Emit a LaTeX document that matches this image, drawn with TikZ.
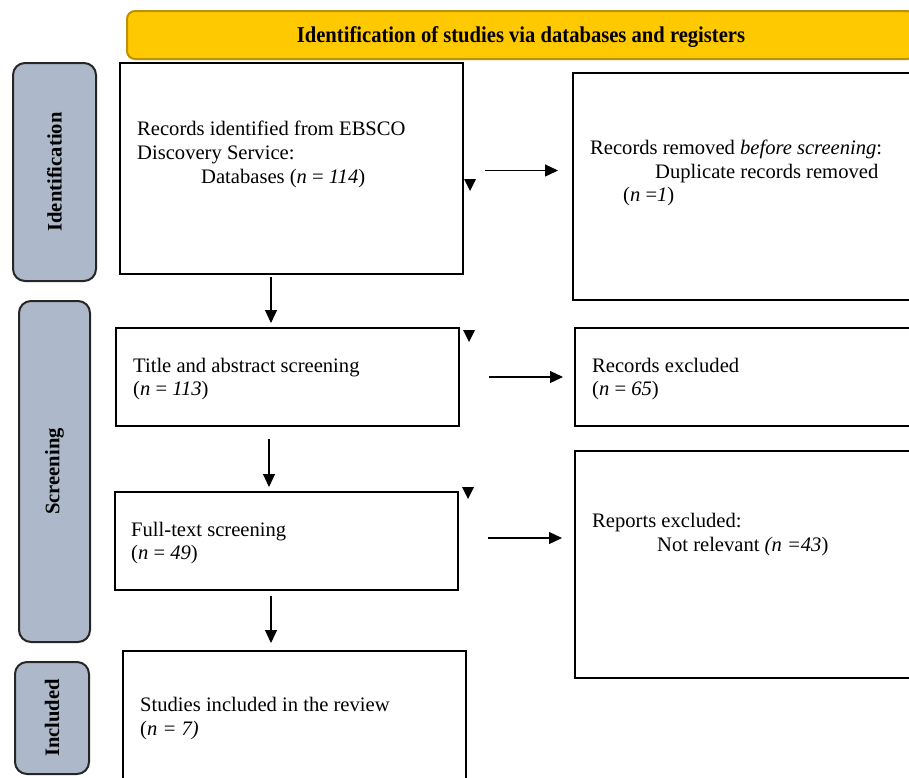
\documentclass[tikz,border=0pt]{standalone}
\usepackage{fontspec}
\setmainfont{Liberation Serif}
\usetikzlibrary{arrows.meta}
\definecolor{bannerfill}{HTML}{FFC900}
\definecolor{bannerline}{HTML}{BF9000}
\definecolor{sidefill}{HTML}{ADB9CA}
\begin{document}
\begin{tikzpicture}[x=1pt,y=-1pt,
  txt/.style={inner sep=0pt, anchor=base west, font=\fontsize{20.6}{24}\selectfont},
  box/.style={draw, line width=2pt, anchor=north west, inner sep=0pt},
  sidebox/.style={draw=black!85, fill=sidefill, line width=2pt, rounded corners=12pt, anchor=north west, inner sep=0pt},
  sidelabel/.style={rotate=90, font=\fontsize{20.6}{24}\selectfont\bfseries, inner sep=0pt},
  arr/.style={line width=1.2pt, -{Triangle[length=13pt,width=12pt]}},
  tri/.style={fill=black}]
\useasboundingbox (0,0) rectangle (909,777);

% banner
\node[draw=bannerline, fill=bannerfill, line width=2pt, rounded corners=8pt,
  minimum width=788pt, minimum height=48pt, anchor=north west] (ban) at (126,10) {};
\node[font=\fontsize{20.6}{24}\selectfont\bfseries, inner sep=0pt, yscale=1.1] (bant) at ([yshift=-2pt]ban.center)
  {Identification of studies via databases and registers};

% side boxes
\node[sidebox, minimum width=83pt, minimum height=218pt] (sid) at (12,62) {};
\node[sidebox, minimum width=71pt, minimum height=341pt] (sscr) at (18,300) {};
\node[sidebox, minimum width=74pt, minimum height=112pt] (sinc) at (14,661) {};
\node[sidelabel] (lid) at (sid.center) {Identification};
\node[sidelabel] (lscr) at (sscr.center) {Screening};
\node[sidelabel] (linc) at (sinc.center) {Included};

% main boxes
\node[box, minimum width=343pt, minimum height=211pt] (b1) at (119,62) {};
\node[box, minimum width=340pt, minimum height=227pt] (rem) at (572,72) {};
\node[box, minimum width=343pt, minimum height=98pt] (ta) at (115,327) {};
\node[box, minimum width=338pt, minimum height=98pt] (rex) at (574,327) {};
\node[box, minimum width=343pt, minimum height=98pt] (ft) at (114,491) {};
\node[box, minimum width=338pt, minimum height=227pt] (rep) at (574,450) {};
\node[box, minimum width=343pt, minimum height=140pt] (inc) at (122,650) {};

% texts
\node[txt] (t1a) at (137,135) {Records identified from EBSCO};
\node[txt] (t1b) at (137,159) {Discovery Service:};
\node[txt] (t1c) at (201,183) {Databases (\textit{n} = \textit{114})};

\node[txt] (t2a) at (590,154) {Records removed \textit{before screening}:};
\node[txt] (t2b) at (655,178) {Duplicate records removed};
\node[txt] (t2c) at (623,201) {(\textit{n} =\textit{1})};

\node[txt] (t3a) at (133,372) {Title and abstract screening};
\node[txt] (t3b) at (133,395) {(\textit{n} = \textit{113})};

\node[txt] (t4a) at (592,372) {Records excluded};
\node[txt] (t4b) at (592,395) {(\textit{n} = \textit{65})};

\node[txt] (t5a) at (131,536) {Full-text screening};
\node[txt] (t5b) at (131,559) {(\textit{n} = \textit{49})};

\node[txt] (t6a) at (592,527) {Reports excluded:};
\node[txt] (t6b) at (657,551) {Not relevant \textit{(n =43})};

\node[txt] (t7a) at (140,711) {Studies included in the review};
\node[txt] (t7b) at (140,735) {(\textit{n = 7)}};

% arrows
\draw[arr, shorten <=21pt, shorten >=14pt] ([yshift=-2pt]b1.east) -- ([yshift=-2pt]b1.east -| rem.west);
\draw[arr, shorten <=29pt, shorten >=11pt] (ta.east) -- (ta.east -| rex.west);
\draw[arr, shorten <=29pt, shorten >=12pt] ([yshift=3pt]ft.east) -- ([yshift=3pt]ft.east -| rep.west);
\draw[arr, shorten <=2pt, shorten >=4pt] ([xshift=-20.5pt]b1.south) -- ([xshift=-20.5pt]b1.south |- ta.north);
\draw[arr, shorten <=12pt, shorten >=4pt] ([xshift=-18.5pt]ta.south) -- ([xshift=-18.5pt]ta.south |- ft.north);
\draw[arr, shorten <=5pt, shorten >=7pt] ([xshift=-15.5pt]ft.south) -- ([xshift=-15.5pt]ft.south |- inc.north);

% stray arrowheads
\fill[tri] (464,179) -- (476,179) -- (470,191) -- cycle;
\fill[tri] (463,330) -- (475,330) -- (469,342) -- cycle;
\fill[tri] (462,487) -- (474,487) -- (468,499) -- cycle;
\end{tikzpicture}
\end{document}
